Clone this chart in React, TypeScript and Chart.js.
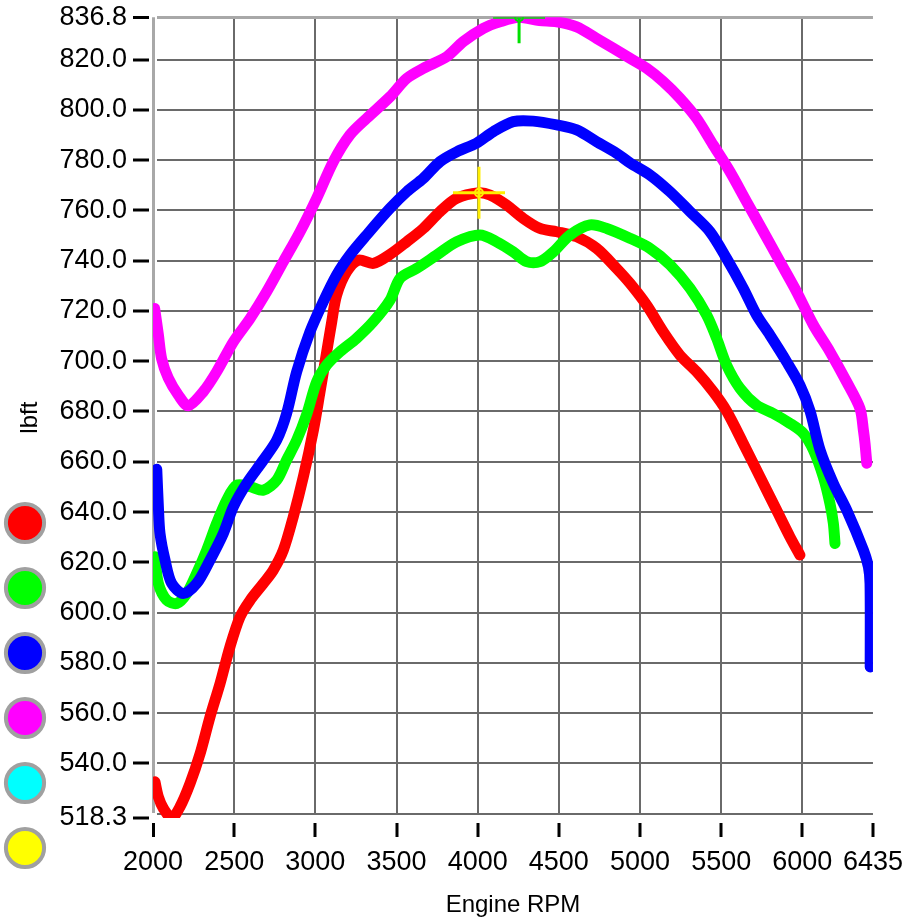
import React, { useEffect, useRef } from 'react';
import { Chart, registerables } from 'chart.js';

Chart.register(...registerables);

// ---------- data ----------
const RED_RPM = [2012, 2033, 2064, 2115, 2166, 2228, 2290, 2351, 2413, 2474, 2536, 2598, 2680, 2741, 2803, 2864, 2926, 2988, 3029, 3060, 3101, 3131, 3193, 3265, 3357, 3460, 3563, 3665, 3768, 3871, 4008, 4075, 4178, 4281, 4384, 4487, 4610, 4733, 4856, 4938, 5041, 5143, 5246, 5349, 5451, 5533, 5636, 5739, 5841, 5923, 5985];
const RED_TQ = [532.7, 526.7, 522.1, 518.3, 522.7, 532.0, 543.9, 558.5, 571.8, 586.4, 598.3, 604.9, 611.6, 616.9, 624.9, 638.1, 654.0, 672.6, 687.9, 699.8, 715.7, 726.3, 735.6, 740.2, 738.9, 742.5, 747.5, 752.8, 759.5, 764.8, 767.0, 766.1, 762.1, 756.8, 752.8, 751.5, 749.5, 744.9, 736.9, 731.0, 722.3, 711.7, 702.4, 695.8, 687.9, 680.2, 667.3, 654.0, 640.8, 630.2, 622.9];

const GREEN_RPM = [2012, 2033, 2084, 2146, 2208, 2269, 2331, 2392, 2454, 2516, 2598, 2680, 2762, 2823, 2885, 2947, 3008, 3070, 3152, 3254, 3357, 3460, 3522, 3624, 3747, 3871, 4014, 4117, 4219, 4302, 4384, 4466, 4569, 4692, 4795, 4938, 5061, 5185, 5308, 5410, 5472, 5533, 5616, 5718, 5821, 5923, 6006, 6068, 6129, 6170, 6191, 6201];
const GREEN_TQ = [622.2, 611.6, 605.0, 603.6, 607.6, 615.6, 624.9, 635.5, 644.8, 650.7, 650.1, 648.7, 652.7, 660.7, 668.6, 678.9, 691.8, 698.5, 703.8, 709.1, 715.7, 724.3, 733.0, 736.9, 742.2, 747.5, 750.2, 747.5, 743.5, 739.6, 739.6, 743.5, 750.2, 754.2, 752.8, 748.9, 744.9, 738.3, 729.0, 718.4, 709.1, 698.5, 689.2, 682.5, 679.2, 675.3, 671.3, 664.7, 654.0, 643.4, 635.5, 627.5];

const BLUE_RPM = [2023, 2033, 2043, 2074, 2115, 2187, 2269, 2351, 2433, 2495, 2577, 2680, 2762, 2823, 2885, 2967, 3049, 3131, 3213, 3316, 3460, 3563, 3665, 3768, 3871, 3992, 4096, 4219, 4342, 4487, 4610, 4733, 4856, 4938, 5061, 5185, 5308, 5431, 5533, 5636, 5718, 5800, 5903, 5985, 6047, 6109, 6191, 6273, 6376, 6407, 6417, 6418];
const BLUE_TQ = [657.0, 642.1, 631.5, 620.9, 611.6, 607.6, 611.6, 620.9, 631.5, 642.1, 651.4, 660.7, 668.6, 679.2, 695.8, 711.7, 723.7, 734.3, 742.2, 750.2, 760.8, 767.4, 772.7, 779.4, 783.3, 786.7, 791.3, 795.3, 795.5, 794.0, 792.0, 787.3, 782.7, 778.9, 774.1, 767.4, 759.5, 751.5, 740.9, 729.0, 718.4, 710.4, 699.8, 690.5, 680.2, 664.7, 651.4, 640.8, 624.9, 618.2, 611.6, 578.4];

const MAGENTA_RPM = [2010, 2033, 2053, 2094, 2156, 2217, 2310, 2392, 2495, 2598, 2700, 2803, 2906, 3008, 3111, 3213, 3316, 3460, 3563, 3665, 3809, 3911, 4035, 4138, 4255, 4380, 4487, 4610, 4733, 4938, 5041, 5143, 5246, 5349, 5451, 5554, 5657, 5760, 5862, 5965, 6068, 6170, 6273, 6355, 6376, 6386, 6397];
const MAGENTA_TQ = [721.0, 710.5, 701.0, 693.3, 686.5, 682.3, 687.9, 695.8, 707.7, 717.0, 727.6, 739.6, 751.5, 764.8, 779.4, 790.0, 796.6, 805.2, 812.5, 816.5, 821.1, 827.1, 832.4, 835.0, 836.8, 835.5, 835.0, 833.0, 828.4, 820.5, 816.5, 811.2, 804.6, 796.6, 786.0, 775.4, 763.4, 751.5, 739.6, 727.6, 714.4, 703.8, 691.8, 681.2, 672.6, 667.3, 659.4];

const CYAN_RPM: number[] = [];
const CYAN_TQ: number[] = [];
const YELLOW_RPM: number[] = [];
const YELLOW_TQ: number[] = [];

// cursor markers
const YELLOW_CURSOR_RPM = [4008];
const YELLOW_CURSOR_TQ = [767.0];
const GREEN_CURSOR_RPM = [4255];
const GREEN_CURSOR_TQ = [836.8];

const X_MIN = 2000;
const X_MAX = 6435;
const Y_MIN = 518.3;
const Y_MAX = 836.8;
const X_TICKS = [2000, 2500, 3000, 3500, 4000, 4500, 5000, 5500, 6000, 6435];
const Y_TICKS = [518.3, 520, 540, 560, 580, 600, 620, 640, 660, 680, 700, 720, 740, 760, 780, 800, 820, 836.8];
const Y_UNLABELLED = 520;

const X_TITLE = 'Engine RPM';
const Y_TITLE = 'lbft';

// ---------- styling ----------
const FONT = "'Liberation Sans', Arial, sans-serif";
const GRID = '#6a6a6a';
const FRAME = '#a8a8a8';
const CLEAR = 'rgba(0,0,0,0)';

const pts = (xs: number[], ys: number[]) => xs.map((x, i) => ({ x, y: ys[i] }));

const curve = (label: string, xs: number[], ys: number[], color: string, order: number) => ({
  label,
  data: pts(xs, ys),
  borderColor: color,
  backgroundColor: color,
  borderWidth: 11,
  borderCapStyle: 'round' as const,
  borderJoinStyle: 'round' as const,
  pointRadius: 0,
  tension: 0.3,
  fill: false,
  order,
});

const marker = (label: string, xs: number[], ys: number[], color: string, style: string, radius: number, width: number) => ({
  label,
  data: pts(xs, ys),
  showLine: false,
  pointStyle: style,
  pointRadius: radius,
  pointBorderWidth: width,
  pointBorderColor: color,
  pointBackgroundColor: CLEAR,
  borderColor: color,
  backgroundColor: CLEAR,
  order: -1,
});

export default function App() {
  const ref = useRef<HTMLCanvasElement | null>(null);

  useEffect(() => {
    if (!ref.current) return;
    Chart.defaults.font.family = FONT;
    Chart.defaults.color = '#000';

    const chart = new Chart(ref.current, {
      type: 'line',
      data: {
        datasets: [
          curve('1', RED_RPM, RED_TQ, '#ff0000', 3),
          curve('2', GREEN_RPM, GREEN_TQ, '#00ff00', 2),
          curve('3', BLUE_RPM, BLUE_TQ, '#0000ff', 0),
          curve('4', MAGENTA_RPM, MAGENTA_TQ, '#ff00ff', 1),
          curve('5', CYAN_RPM, CYAN_TQ, '#00ffff', 4),
          curve('6', YELLOW_RPM, YELLOW_TQ, '#ffff00', 5),
          marker('c1', YELLOW_CURSOR_RPM, YELLOW_CURSOR_TQ, '#ffee00', 'cross', 26, 3),
          marker('c2', YELLOW_CURSOR_RPM, YELLOW_CURSOR_TQ, '#ffee00', 'circle', 4, 2),
          marker('c3', GREEN_CURSOR_RPM, GREEN_CURSOR_TQ, '#00e000', 'cross', 26, 3),
          marker('c4', GREEN_CURSOR_RPM, GREEN_CURSOR_TQ, '#00e000', 'circle', 4, 2),
        ] as any,
      },
      options: {
        animation: false,
        responsive: true,
        maintainAspectRatio: false,
        layout: { autoPadding: false, padding: { left: 2, right: 30, top: 17.3, bottom: 38 } },
        plugins: {
          tooltip: { enabled: false },
          legend: {
            position: 'left',
            align: 'end',
            maxWidth: 46,
            labels: {
              usePointStyle: true,
              boxWidth: 36,
              boxHeight: 27,
              padding: 5,
              font: { size: 60 },
              generateLabels: (c: any) =>
                c.data.datasets.slice(0, 6).map((ds: any, i: number) => ({
                  text: '',
                  fillStyle: ds.borderColor,
                  strokeStyle: '#a0a0a0',
                  lineWidth: 4,
                  pointStyle: 'circle',
                  hidden: false,
                  datasetIndex: i,
                })),
            },
          },
        },
        scales: {
          x: {
            type: 'linear',
            min: X_MIN,
            max: X_MAX,
            afterBuildTicks: (s: any) => {
              s.ticks = X_TICKS.map((v) => ({ value: v }));
            },
            ticks: {
              autoSkip: false,
              maxRotation: 0,
              padding: 0,
              font: { size: 27, lineHeight: 1.889 },
              color: '#000',
              callback: (v: any) => String(v),
            },
            grid: {
              color: (ctx: any) =>
                ctx.index === 0 ? FRAME : ctx.tick && ctx.tick.value === X_MAX ? CLEAR : GRID,
              lineWidth: (ctx: any) => (ctx.index === 0 ? 3 : 2),
              tickColor: '#000',
              tickWidth: 3,
              tickLength: 19,
              drawTicks: true,
            },
            border: { display: true, width: 10, color: CLEAR },
            title: {
              display: true,
              text: X_TITLE,
              color: '#000',
              font: { size: 24 },
              padding: { top: 2.6, bottom: -36.4 },
            },
          },
          y: {
            type: 'linear',
            min: Y_MIN,
            max: Y_MAX,
            afterBuildTicks: (s: any) => {
              s.ticks = Y_TICKS.map((v) => ({ value: v }));
            },
            ticks: {
              autoSkip: false,
              padding: 6,
              font: { size: 27, lineHeight: 0.3 },
              color: '#000',
              callback: (v: any) => (v === Y_UNLABELLED ? '' : Number(v).toFixed(1)),
            },
            grid: {
              color: (ctx: any) => {
                const v = ctx.tick ? ctx.tick.value : null;
                if (v === Y_MIN) return CLEAR;
                if (v === Y_MAX) return FRAME;
                return GRID;
              },
              lineWidth: (ctx: any) => (ctx.tick && ctx.tick.value === Y_MAX ? 3 : 2),
              tickColor: (ctx: any) => (ctx.tick && ctx.tick.value === Y_UNLABELLED ? CLEAR : '#000'),
              tickWidth: 3,
              tickLength: 20,
              drawTicks: true,
            },
            border: { display: true, width: 8, color: CLEAR },
            title: {
              display: true,
              text: Y_TITLE,
              color: '#000',
              font: { size: 24 },
              padding: { top: -32.4, bottom: 9.05 },
            },
          },
        },
      },
    } as any);

    return () => chart.destroy();
  }, []);

  return (
    <div style={{ position: 'absolute', left: 0, top: 0, width: 903, height: 921, background: '#fff' }}>
      <canvas ref={ref} />
    </div>
  );
}
